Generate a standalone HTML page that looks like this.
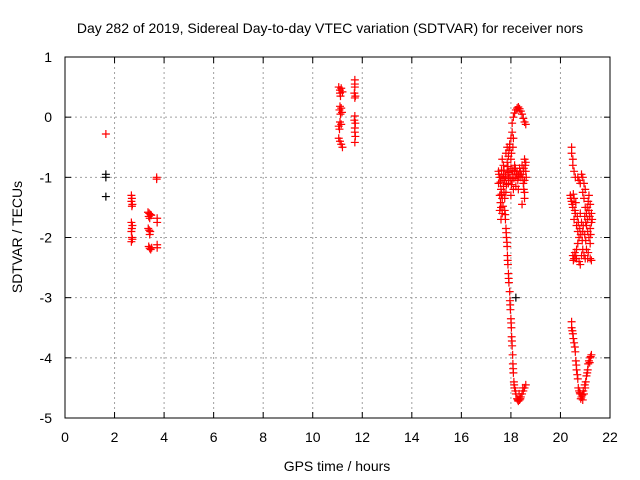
<!DOCTYPE html>
<html><head><meta charset="utf-8"><style>
body{margin:0;background:#fff}
svg{display:block;font-family:"Liberation Sans",sans-serif}
</style></head><body>
<svg id="chart" width="640" height="480">
<text x="330" y="33" text-anchor="middle" font-size="14">Day 282 of 2019, Sidereal Day-to-day VTEC variation (SDTVAR) for receiver nors</text>
<text x="0" y="0" transform="translate(22,237) rotate(-90)" text-anchor="middle" font-size="14">SDTVAR / TECUs</text>
<text x="337" y="471" text-anchor="middle" font-size="14">GPS time / hours</text>
<g id="grid"></g>
<g id="marks"></g>
<rect x="65" y="57" width="545" height="361" fill="none" stroke="#000"/>
</svg>
<script>
const xTicks=[0,2,4,6,8,10,12,14,16,18,20,22];
const yTicks=[1,0,-1,-2,-3,-4,-5];
const blackPoints=[[1.65,-0.95],[1.65,-1.0],[1.65,-1.32],[18.2,-3.0]];
const redPoints=[[1.65,-0.28],
[2.68,-1.3],[2.7,-1.35],[2.68,-1.4],[2.72,-1.45],[2.7,-1.48],[2.68,-1.75],[2.72,-1.8],[2.7,-1.85],[2.68,-1.9],[2.7,-2.0],[2.72,-2.03],[2.68,-2.07],
[3.35,-1.58],[3.4,-1.6],[3.45,-1.62],[3.38,-1.65],[3.42,-1.68],[3.48,-1.63],[3.36,-1.85],[3.4,-1.88],[3.44,-1.9],[3.42,-1.95],[3.38,-2.15],[3.42,-2.18],[3.46,-2.2],[3.5,-2.17],[3.7,-1.0],[3.7,-1.03],[3.72,-1.68],[3.72,-1.75],[3.72,-2.12],[3.72,-2.17],
[11.05,0.5],[11.1,0.45],[11.15,0.48],[11.1,0.4],[11.2,0.42],[11.12,0.35],[11.1,0.18],[11.15,0.15],[11.08,0.12],[11.18,0.08],[11.12,0.05],[11.1,-0.08],[11.15,-0.12],[11.05,-0.15],[11.08,-0.2],[11.05,-0.35],[11.1,-0.4],[11.15,-0.45],[11.2,-0.5],
[11.7,0.62],[11.7,0.55],[11.7,0.5],[11.68,0.4],[11.72,0.35],[11.7,0.32],[11.7,0.02],[11.68,-0.05],[11.72,-0.1],[11.7,-0.18],[11.7,-0.25],[11.72,-0.32],[11.7,-0.42],
[17.75,-1.55],[17.78,-1.7],[17.8,-1.85],[17.82,-2.0],[17.85,-2.15],[17.86,-2.3],[17.88,-2.45],[17.9,-2.6],[17.92,-2.75],[17.95,-2.9],[17.96,-3.05],[17.98,-3.2],[18.0,-3.35],[18.02,-3.5],[18.03,-3.65],[18.05,-3.8],[18.07,-3.95],[18.08,-4.1],[18.1,-4.25],[18.12,-4.4],[18.15,-4.5],[18.2,-4.6],[18.25,-4.68],[18.3,-4.72],[18.35,-4.7],[18.4,-4.65],[18.45,-4.6],[18.5,-4.55],[18.55,-4.5],[18.6,-4.45],
[17.77,-1.62],[17.81,-1.92],[17.84,-2.08],[17.87,-2.38],[17.91,-2.68],[17.97,-3.12],[18.01,-3.42],[18.04,-3.72],[18.09,-4.18],[18.13,-4.45],[18.18,-4.55],[18.28,-4.7],[18.38,-4.68],[18.33,-4.6],[18.48,-4.5],
[17.5,-0.9],[17.55,-1.0],[17.5,-1.1],[17.6,-1.2],[17.55,-1.3],[17.6,-1.5],[17.55,-1.55],[17.65,-1.6],[17.6,-1.7],[17.65,-0.7],[17.7,-0.8],[17.7,-0.95],[17.75,-1.05],[17.7,-1.15],[17.8,-1.25],[17.75,-1.35],[17.8,-0.6],[17.85,-0.75],[17.85,-0.9],[17.9,-1.0],[17.9,-1.1],[17.95,-0.5],[18.0,-0.7],[18.0,-0.85],[18.05,-0.95],[18.05,-1.05],[18.1,-1.2],[18.0,-1.3],[18.15,-0.8],[18.15,-0.9],[18.2,-1.0],[18.25,-0.9],[18.3,-0.95],[18.35,-0.85],[18.4,-1.0],[18.45,-0.8],[18.5,-0.9],[18.5,-1.1],[18.55,-1.25],[18.55,-1.35],[18.6,-0.75],[18.6,-0.9],[18.55,-1.05],[17.95,-0.45],[18.0,-0.35],[18.05,-0.25],[18.05,-0.1],[18.1,0.0],[18.15,0.07],[18.2,0.12],[18.25,0.15],[18.3,0.17],[18.35,0.14],[18.4,0.1],[18.45,0.05],[18.5,-0.02],[18.55,-0.08],[18.6,-0.12],[18.1,-0.35],[18.08,-0.5],[17.85,-0.5],[17.9,-0.65],[17.6,-1.0],[17.65,-1.35],[18.2,-1.15],[18.3,-1.2],[18.45,-1.45],[18.55,-0.7],
[17.52,-0.95],[17.58,-1.08],[17.62,-0.88],[17.68,-1.02],[17.72,-0.88],[17.78,-0.98],[17.82,-1.12],[17.88,-0.82],[17.92,-0.92],[17.97,-1.02],[18.02,-1.12],[18.08,-0.88],[18.12,-1.02],[18.18,-0.85],[18.22,-0.95],[18.28,-1.05],[18.33,-0.98],[18.38,-0.9],[18.42,-0.95],[18.48,-1.0],[18.52,-0.85],[17.58,-1.42],[17.62,-1.28],[17.68,-1.48],[17.72,-1.25],[17.92,-0.55],[18.02,-0.6],[18.58,-0.8],[18.52,-1.2],[18.62,-1.0],
[20.45,-0.5],[20.45,-0.6],[20.5,-0.7],[20.5,-0.8],[20.55,-0.9],[20.6,-1.0],[20.7,-1.0],[20.75,-1.05],[20.8,-1.1],[20.85,-0.95],[20.9,-1.0],[20.95,-1.1],[21.0,-1.2],[20.9,-1.25],[20.95,-1.35],[21.0,-1.5],[21.05,-1.6],[21.1,-1.7],[21.05,-1.8],[21.1,-1.9],[21.15,-2.0],[21.2,-2.1],[21.05,-2.2],[21.15,-1.55],[21.2,-1.45],[21.25,-1.6],[21.25,-1.75],[21.2,-1.85],[21.15,-1.3],[20.4,-1.3],[20.45,-1.4],[20.5,-1.5],[20.55,-1.35],[20.6,-1.6],[20.55,-1.7],[20.65,-1.8],[20.7,-1.9],[20.75,-2.0],[20.7,-2.1],[20.65,-2.2],[20.6,-2.3],[20.5,-2.3],[20.55,-2.35],[20.65,-2.35],[20.75,-2.4],[20.8,-2.45],[20.85,-2.3],[20.9,-2.2],[21.0,-2.35],[21.1,-2.35],[21.2,-2.35],[21.25,-2.38],[20.8,-1.6],[20.85,-1.75],[20.9,-1.9],
[20.42,-1.35],[20.48,-1.45],[20.52,-1.28],[20.58,-1.55],[20.62,-1.42],[20.68,-1.65],[20.72,-1.75],[20.78,-1.85],[20.82,-1.95],[20.88,-2.05],[20.92,-1.8],[20.98,-1.65],[21.02,-1.75],[21.08,-1.5],[21.12,-1.4],[21.18,-1.65],[21.22,-1.95],[21.28,-1.7],[21.02,-2.05],[20.98,-1.95],[21.12,-2.25],[20.95,-2.3],[20.58,-2.25],[20.52,-2.38],
[20.45,-3.4],[20.45,-3.5],[20.5,-3.6],[20.55,-3.75],[20.6,-3.9],[20.62,-4.05],[20.65,-4.2],[20.7,-4.35],[20.72,-4.5],[20.75,-4.55],[20.8,-4.6],[20.85,-4.65],[20.9,-4.7],[20.95,-4.6],[21.0,-4.5],[21.02,-4.4],[21.05,-4.3],[21.1,-4.2],[21.12,-4.1],[21.15,-4.05],[21.2,-4.0],[21.25,-3.95],
[20.48,-3.55],[20.52,-3.68],[20.58,-3.82],[20.64,-4.12],[20.68,-4.28],[20.78,-4.58],[20.82,-4.68],[20.88,-4.62],[20.92,-4.55],[20.98,-4.45],[21.08,-4.25],[21.18,-4.08],[21.22,-3.98]];

const NS="http://www.w3.org/2000/svg";
const L=65,R=610,T=57,B=418;
function sx(v){return L+(v-0)/(22-0)*(R-L);}
function sy(v){return B-(v-(-5))/(1-(-5))*(B-T);}
const svg=document.getElementById('chart');
const grid=document.getElementById('grid');
const marks=document.getElementById('marks');
function mk(tag,attrs,parent){const e=document.createElementNS(NS,tag);for(const k in attrs)e.setAttribute(k,attrs[k]);parent.appendChild(e);return e;}
xTicks.forEach(t=>{
  const x=sx(t);
  if(t>0&&t<22){const g=mk('line',{x1:x,x2:x,y1:T,y2:B,stroke:'#a0a0a0','stroke-dasharray':'2,3'},grid);
  
  }
  mk('line',{x1:x,x2:x,y1:B,y2:B-6,stroke:'#000'},grid);
  mk('line',{x1:x,x2:x,y1:T,y2:T+6,stroke:'#000'},grid);
  const tx=mk('text',{x:x,y:442,'text-anchor':'middle','font-size':'14'},svg);
  tx.textContent=t;
  
  
});
yTicks.forEach(t=>{
  const y=sy(t);
  if(t<1&&t>-5){const g=mk('line',{x1:L,x2:R,y1:y,y2:y,stroke:'#a0a0a0','stroke-dasharray':'2,3'},grid);
  
  }
  mk('line',{x1:L,x2:L+6,y1:y,y2:y,stroke:'#000'},grid);
  mk('line',{x1:R,x2:R-6,y1:y,y2:y,stroke:'#000'},grid);
  const tx=mk('text',{x:52,y:y+5,'text-anchor':'end','font-size':'14'},svg);
  tx.textContent=t;
  
  
});
function plus(p,color){
  const x=sx(p[0]),y=sy(p[1]);
  const e=mk('path',{d:`M${x-4},${y}H${x+4}M${x},${y-4}V${y+4}`,stroke:color,'stroke-width':1.2,fill:'none'},marks);
  
  
}
blackPoints.forEach(p=>plus(p,'#000'));
redPoints.forEach(p=>plus(p,'#f00'));
</script>
</body></html>
